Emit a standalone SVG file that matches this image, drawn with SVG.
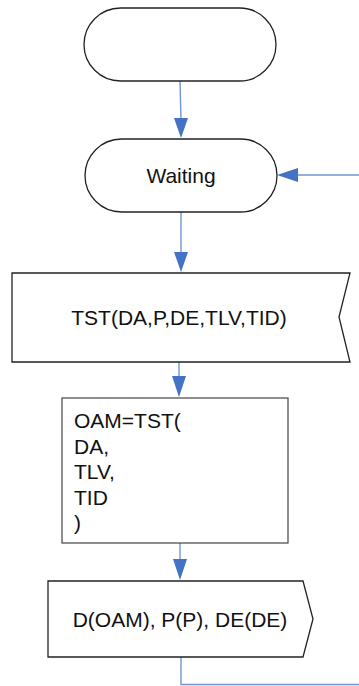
<svg xmlns="http://www.w3.org/2000/svg" width="359" height="686" viewBox="0 0 359 686">
<style>
.shape{fill:#fff;stroke:#222;stroke-width:1.3}
.box{fill:#fff;stroke:#444;stroke-width:1.2}
.t{font-family:"Liberation Sans",Arial,sans-serif;font-size:21px;fill:#111}
.c{text-anchor:middle}
.line{fill:none;stroke:#6f96d4;stroke-width:1.4}
.ah{fill:#4472c4}
</style>
<rect width="359" height="686" fill="#fff"/>
<g id="connectors">
<line class="line" x1="180" y1="81" x2="181" y2="120"/>
<polygon class="ah" points="174,118 188,118 181,138"/>
<line class="line" x1="181" y1="212" x2="181" y2="254"/>
<polygon class="ah" points="174,252 188,252 181,272"/>
<line class="line" x1="179" y1="362" x2="179" y2="378"/>
<polygon class="ah" points="172,376 186,376 179,397"/>
<line class="line" x1="180" y1="543" x2="180" y2="561"/>
<polygon class="ah" points="173,559 187,559 180,580"/>
<line class="line" x1="359" y1="175" x2="296" y2="175"/>
<polygon class="ah" points="298,168 298,182 277,175"/>
<polyline class="line" points="181,657 181,684.5 359,684.5"/>
</g>
<g id="start">
<rect class="shape" x="84" y="8" width="192" height="73" rx="36.5" ry="36.5"/>
</g>
<g id="waiting">
<rect class="shape" x="85" y="139" width="192" height="73" rx="36.5" ry="36.5"/>
<text class="t c" x="181" y="183">Waiting</text>
</g>
<g id="tst">
<polygon class="shape" points="12,273 350,273 339,317 350,362 12,362"/>
<text class="t c" x="179" y="325">TST(DA,P,DE,TLV,TID)</text>
</g>
<g id="oam">
<rect class="box" x="62" y="398" width="226" height="145"/>
<text class="t" x="74" y="428">OAM=TST(</text>
<text class="t" x="74" y="453.5">DA,</text>
<text class="t" x="74" y="479">TLV,</text>
<text class="t" x="74" y="504.5">TID</text>
<text class="t" x="74" y="530">)</text>
</g>
<g id="output">
<polygon class="shape" points="48,581 303,581 313,619 303,657 48,657"/>
<text class="t c" x="180" y="627">D(OAM), P(P), DE(DE)</text>
</g>
</svg>
